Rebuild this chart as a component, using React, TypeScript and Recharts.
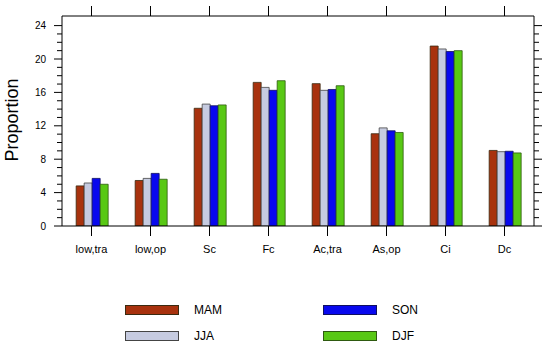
import React from "react";
import { BarChart, Bar, XAxis, YAxis } from "recharts";

const categories = ["low,tra", "low,op", "Sc", "Fc", "Ac,tra", "As,op", "Ci", "Dc"];
const MAM = [4.8, 5.45, 14.1, 17.2, 17.05, 11.05, 21.55, 9.05];
const JJA = [5.15, 5.7, 14.6, 16.6, 16.25, 11.75, 21.2, 8.9];
const SON = [5.7, 6.3, 14.4, 16.25, 16.35, 11.4, 20.9, 8.95];
const DJF = [5.0, 5.6, 14.5, 17.4, 16.8, 11.2, 21.0, 8.75];
const yTicks = [0, 1, 2, 3, 4, 5, 6, 7, 8, 9, 10, 11, 12, 13, 14, 15, 16, 17, 18, 19, 20, 21, 22, 23, 24];

const series = [
  { key: "MAM", values: MAM, fill: "#a8320e", stroke: "#3a2a10" },
  { key: "JJA", values: JJA, fill: "#c6cbe0", stroke: "#444444" },
  { key: "SON", values: SON, fill: "#0808ee", stroke: "#101060" },
  { key: "DJF", values: DJF, fill: "#58c814", stroke: "#2e5a10" },
];

const data = categories.map((c, i) => {
  const row: any = { cat: c, idx: i };
  series.forEach((s) => (row[s.key] = s.values[i]));
  return row;
});
const topTicks = categories.map((_, i) => i);

const FONT = "'Liberation Sans', Arial, Helvetica, sans-serif";

const LeftTick = (props: any) => {
  const { x, y, payload } = props;
  const major = payload.value % 4 === 0;
  return (
    <g>
      <line x1={x - (major ? 8 : 5)} x2={x} y1={y} y2={y} stroke="#000" strokeWidth={1} />
      {major && (
        <text x={x - 16} y={y} dy="0.35em" textAnchor="end" fontSize={10} fontFamily={FONT} fill="#000">
          {payload.value}
        </text>
      )}
    </g>
  );
};

const RightTick = (props: any) => {
  const { x, y, payload } = props;
  const major = payload.value % 4 === 0;
  return <line x1={x} x2={x + (major ? 8 : 5)} y1={y} y2={y} stroke="#000" strokeWidth={1} />;
};

const TopTick = (props: any) => {
  const { x, y } = props;
  return <line x1={x} x2={x} y1={y} y2={y - 10} stroke="#000" strokeWidth={1} />;
};

const YLabel = () => (
  <text x={17.5} y={120} transform="rotate(-90, 17.5, 120)" textAnchor="middle" fontSize={18} fontFamily={FONT} fill="#000">
    Proportion
  </text>
);

const legendPos = [
  { left: 125, top: 305 },
  { left: 125, top: 331 },
  { left: 323, top: 305 },
  { left: 323, top: 331 },
];

export default function App() {
  return (
    <div style={{ position: "absolute", left: 0, top: 0, width: 550, height: 344, background: "#fff" }}>
      <BarChart
        width={550}
        height={344}
        data={data}
        margin={{ top: 0, right: 0, bottom: 0, left: 0 }}
        barCategoryGap="24%"
        barGap={0}
      >
        <XAxis
          xAxisId="top"
          orientation="top"
          type="number"
          dataKey="idx"
          domain={[-0.5, categories.length - 0.5]}
          ticks={topTicks}
          interval={0}
          allowDataOverflow
          height={16}
          tickSize={0}
          tickMargin={0}
          tickLine={false}
          axisLine={{ stroke: "#000" }}
          tick={<TopTick />}
        />
        <XAxis
          dataKey="cat"
          height={118}
          tickSize={10}
          tickMargin={9}
          interval={0}
          axisLine={{ stroke: "#000" }}
          tickLine={{ stroke: "#000" }}
          tick={{ fontSize: 11, fontFamily: FONT, fill: "#000" }}
        />
        <YAxis
          yAxisId="left"
          width={62}
          domain={[0, 25.15]}
          type="number"
          ticks={yTicks}
          interval={0}
          allowDataOverflow
          tickSize={0}
          tickMargin={0}
          tickLine={false}
          axisLine={{ stroke: "#000" }}
          tick={<LeftTick />}
          label={<YLabel />}
        />
        <YAxis
          yAxisId="right"
          orientation="right"
          width={16}
          domain={[0, 25.15]}
          type="number"
          ticks={yTicks}
          interval={0}
          allowDataOverflow
          tickSize={0}
          tickMargin={0}
          tickLine={false}
          axisLine={{ stroke: "#000" }}
          tick={<RightTick />}
        />
        {series.map((s) => (
          <Bar
            key={s.key}
            dataKey={s.key}
            yAxisId="left"
            fill={s.fill}
            stroke={s.stroke}
            strokeWidth={0.8}
            isAnimationActive={false}
          />
        ))}
      </BarChart>
      {series.map((s, i) => (
        <div key={s.key}>
          <div
            style={{
              position: "absolute",
              left: legendPos[i].left,
              top: legendPos[i].top,
              width: 54,
              height: 10,
              boxSizing: "border-box",
              background: s.fill,
              border: `1px solid ${s.stroke}`,
            }}
          />
          <div
            style={{
              position: "absolute",
              left: legendPos[i].left + 69,
              top: legendPos[i].top - 2,
              fontSize: 12,
              lineHeight: "14px",
              fontFamily: FONT,
              color: "#000",
            }}
          >
            {s.key}
          </div>
        </div>
      ))}
    </div>
  );
}
